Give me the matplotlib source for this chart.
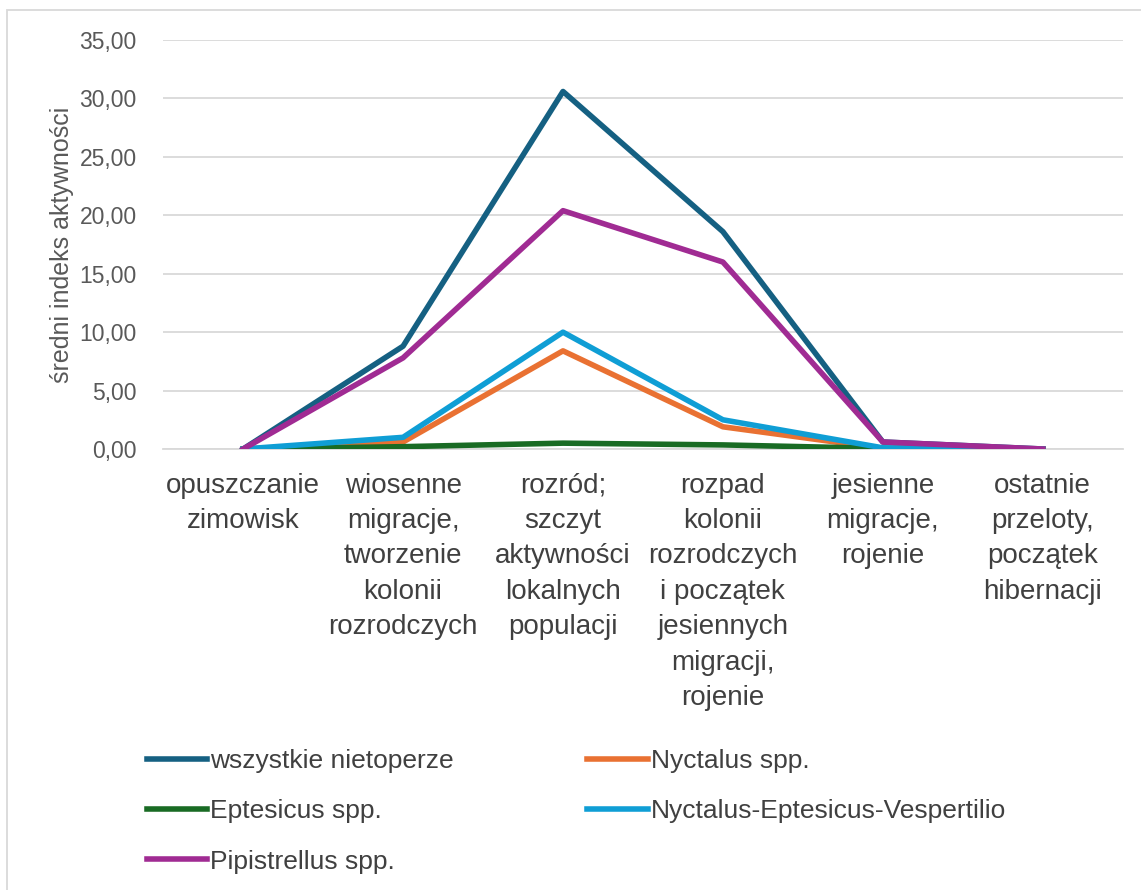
import matplotlib.pyplot as plt
from matplotlib.patches import Rectangle
from matplotlib.ticker import FuncFormatter

plt.rcParams['font.family'] = ['Liberation Sans', 'DejaVu Sans']

# okresy fenologiczne
okresy = [
    'opuszczanie\nzimowisk',
    'wiosenne\nmigracje,\ntworzenie\nkolonii\nrozrodczych',
    'rozród;\nszczyt\naktywności\nlokalnych\npopulacji',
    'rozpad\nkolonii\nrozrodczych\ni początek\njesiennych\nmigracji,\nrojenie',
    'jesienne\nmigracje,\nrojenie',
    'ostatnie\nprzeloty,\npoczątek\nhibernacji',
]

# średni indeks aktywności
wszystkie = [0.0, 8.8, 30.6, 18.6, 0.6, 0.0]
nyctalus = [0.0, 0.6, 8.4, 1.9, 0.05, 0.0]
eptesicus = [0.0, 0.2, 0.5, 0.35, 0.05, 0.0]
nev = [0.0, 1.0, 10.0, 2.5, 0.1, 0.0]
pipistrellus = [0.0, 7.8, 20.4, 16.0, 0.6, 0.0]

fig = plt.figure(figsize=(11.41, 8.9), dpi=100)
ax = fig.add_axes([0.143, 0.4955, 0.841, 0.4595])

x = range(len(okresy))
lw = 4.0
l1, = ax.plot(x, wszystkie, color='#156082', lw=lw, label='wszystkie nietoperze', zorder=3)
l2, = ax.plot(x, nyctalus, color='#E97132', lw=lw, label='Nyctalus spp.', zorder=3)
l3, = ax.plot(x, eptesicus, color='#196B24', lw=lw, label='Eptesicus spp.', zorder=3)
l4, = ax.plot(x, nev, color='#0F9ED5', lw=lw, label='Nyctalus-Eptesicus-Vespertilio', zorder=3)
l5, = ax.plot(x, pipistrellus, color='#A02B93', lw=lw, label='Pipistrellus spp.', zorder=3)

ax.set_xlim(-0.5, len(okresy) - 0.5)
ax.set_ylim(0, 35)
ax.set_yticks(range(0, 36, 5))
ax.yaxis.set_major_formatter(FuncFormatter(lambda v, p: f'{v:.2f}'.replace('.', ',')))
ax.grid(axis='y', color='#D9D9D9', lw=1.3)
ax.set_axisbelow(True)
for s in ['top', 'right', 'left']:
    ax.spines[s].set_visible(False)
ax.spines['bottom'].set_color('#D9D9D9')
ax.spines['bottom'].set_linewidth(1.3)

ax.set_xticks(list(x))
ax.set_xticklabels(okresy, fontsize=20, color='#404040', linespacing=1.47, ma='center')
ax.tick_params(axis='x', length=0, pad=17)
ax.tick_params(axis='y', length=0, pad=19, labelsize=16.5, labelcolor='#595959')
ax.set_ylabel('średni indeks aktywności', fontsize=18, color='#595959', labelpad=4)

fig.legend(handles=[l1, l3, l5, l2, l4], ncol=2, frameon=False, loc='upper left',
           bbox_to_anchor=(0.117, 0.1735), fontsize=19, handlelength=2.3,
           handletextpad=0.1, columnspacing=5.07, labelspacing=1.0, borderpad=0,
           labelcolor='#404040')

fig.patches.append(Rectangle((7 / 1141, -0.1), 1.2, 1 - 10 / 890 + 0.1,
                             transform=fig.transFigure, fill=False,
                             edgecolor='#D9D9D9', lw=1.3))

fig.savefig('out.png', dpi=100, facecolor='white')
